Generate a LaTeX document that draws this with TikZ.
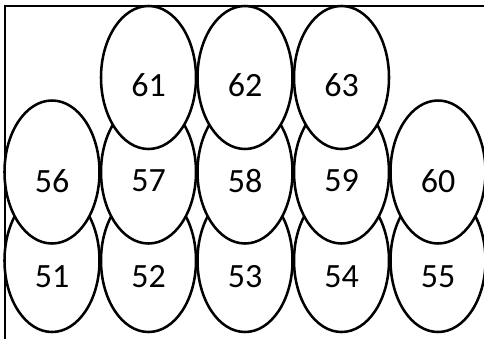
\documentclass[tikz,border=0pt]{standalone}
\usepackage{fontspec}
\setmainfont{Carlito}
\usetikzlibrary{shapes.geometric}
\tikzset{
  egg/.style={ellipse, draw, line width=1.9pt, fill=white, inner sep=0pt,
    minimum width=71.25pt, minimum height=107.25pt},
  eggnum/.style={font=\fontsize{25.5}{25.5}\selectfont, inner sep=0pt},
  frameline/.style={line width=2pt},
}
\begin{document}
\begin{tikzpicture}[x=0.75pt, y=-0.75pt]
  \useasboundingbox (0,0) rectangle (484,339);
  % bottom row 51--55
  \foreach \n [count=\i from 0] in {51,...,55} {
    \node[egg] (e\n) at (52+96.5*\i, 260.5) {};
    \node[eggnum] (t\n) at (52+96.5*\i, 277) {\n};
  }
  % middle row 56--60
  \foreach \n [count=\i from 0] in {56,...,60} {
    \node[egg] (e\n) at (52+96.5*\i, 172) {};
    \node[eggnum] (t\n) at (52+96.5*\i, 181) {\n};
  }
  % top row 61--63
  \foreach \n [count=\i from 1] in {61,62,63} {
    \node[egg] (e\n) at (52+96.5*\i, 77.5) {};
    \node[eggnum] (t\n) at (52+96.5*\i, 85) {\n};
  }
  \coordinate (tr) at (484,6);
  \coordinate (tl) at (5,6);
  \coordinate (bl) at (5,339);
  \draw[frameline] (tr) -- (tl) -- (bl);
\end{tikzpicture}
\end{document}
